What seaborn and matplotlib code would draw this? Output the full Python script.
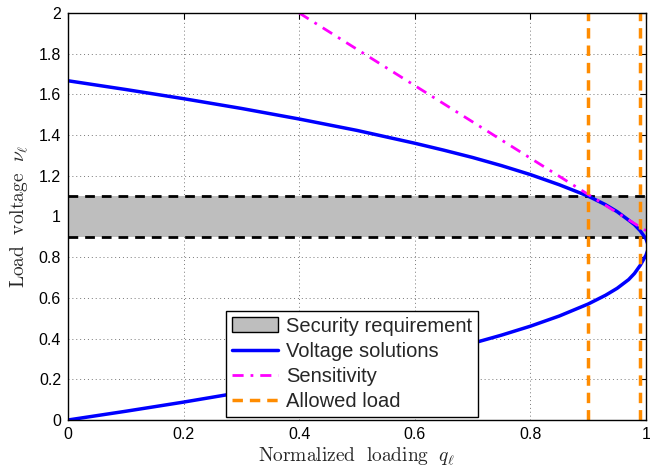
import numpy as np
import pandas as pd
import matplotlib
matplotlib.use("Agg")
import matplotlib.pyplot as plt
import seaborn as sns
from matplotlib.patches import Patch
from matplotlib.lines import Line2D
from matplotlib.ticker import FuncFormatter

# ---- data ----
q_vals = [0, 0.1, 0.2, 0.3, 0.4, 0.5, 0.6, 0.65, 0.7, 0.75, 0.8, 0.85, 0.9, 0.93, 0.95,
          0.97, 0.98, 0.99, 0.995, 1.0, 1.005]
v_upper = [1.667, 1.624, 1.579, 1.531, 1.479, 1.423, 1.360, 1.326, 1.290, 1.250, 1.206,
           1.156, 1.100, 1.058, 1.024, 0.982, 0.960, 0.930, 0.910, 0.890, 0.850]
v_lower = [0.0, 0.043, 0.088, 0.136, 0.188, 0.244, 0.306, 0.340, 0.377, 0.417, 0.461,
           0.511, 0.570, 0.613, 0.647, 0.690, 0.720, 0.760, 0.785, 0.810, 0.850]
sens_q = [0.4, 1.0]
sens_v = [2.0, 0.93]
security_band = [0.9, 1.1]
allowed_q = [0.9, 0.99]
x_ticks = [0, 0.2, 0.4, 0.6, 0.8, 1]
y_ticks = [0, 0.2, 0.4, 0.6, 0.8, 1, 1.2, 1.4, 1.6, 1.8, 2]
legend_labels = ["Security requirement", "Voltage solutions", "Sensitivity", "Allowed load"]

sns.set_style("white")
plt.rcParams["mathtext.fontset"] = "cm"
plt.rcParams["font.family"] = ["Liberation Sans", "DejaVu Sans"]

fig = plt.figure(figsize=(6.5, 4.68), dpi=100)
ax = fig.add_axes([68/650, 1-420/468, (646-68)/650, (420-13)/468])

BLUE = "#0000FF"
MAG = "#FF00FF"
ORANGE = "#FF8C00"
GRAY = "#BEBEBE"
SENS_LS = (0, (4, 2.5, 1, 2.5))

ax.axhspan(security_band[0], security_band[1], color=GRAY, zorder=1, lw=0)
for yv in security_band:
    ax.axhline(yv, color="black", ls=(0, (3.5, 2.5)), lw=2, zorder=2)

curve = pd.DataFrame({
    "q": list(q_vals) + list(q_vals[::-1]),
    "v": list(v_upper) + list(v_lower[::-1]),
})
sns.lineplot(data=curve, x="q", y="v", sort=False, estimator=None, color=BLUE,
             lw=2.5, ax=ax, zorder=3)

sens = pd.DataFrame({"q": sens_q, "v": sens_v})
sns.lineplot(data=sens, x="q", y="v", sort=False, estimator=None, color=MAG, lw=2,
             ax=ax, zorder=4)
ax.lines[-1].set_linestyle(SENS_LS)

for xv in allowed_q:
    ax.axvline(xv, color=ORANGE, ls=(0, (3, 2)), lw=2.5, zorder=5)

ax.set_xlim(0, 1)
ax.set_ylim(0, 2)
ax.set_xticks(x_ticks)
ax.set_yticks(y_ticks)
fmt = FuncFormatter(lambda v, p: "%g" % v)
ax.xaxis.set_major_formatter(fmt)
ax.yaxis.set_major_formatter(fmt)
ax.tick_params(direction="in", top=True, right=True, length=4, width=0.8,
               labelsize=11.5, colors="black", pad=5)
ax.grid(True, ls=(0, (1, 3)), color="#777777", lw=0.7)
for s in ax.spines.values():
    s.set_visible(True)
    s.set_color("black")
    s.set_linewidth(1)
    s.set_zorder(6)

ax.set_xlabel(r"$\mathrm{Normalized\ \ loading}\ \ q_\ell$", fontsize=14, labelpad=2)
ax.set_ylabel(r"$\mathrm{Load\ \ voltage}\ \ \nu_\ell$", fontsize=14, labelpad=6)

handles = [
    Patch(facecolor=GRAY, edgecolor="black", lw=1),
    Line2D([], [], color=BLUE, lw=2.5),
    Line2D([], [], color=MAG, lw=2, ls=SENS_LS),
    Line2D([], [], color=ORANGE, lw=2.5, ls=(0, (3, 2))),
]
leg = ax.legend(handles, legend_labels, loc="lower center", bbox_to_anchor=(0.491, 0.008),
                fontsize=14.5, frameon=True, fancybox=False, edgecolor="black",
                framealpha=1, borderpad=0.3, labelspacing=0.3, handlelength=2.3,
                handletextpad=0.4, borderaxespad=0)
leg.get_frame().set_linewidth(1)
leg.set_zorder(10)

fig.savefig("out.png", dpi=100)
